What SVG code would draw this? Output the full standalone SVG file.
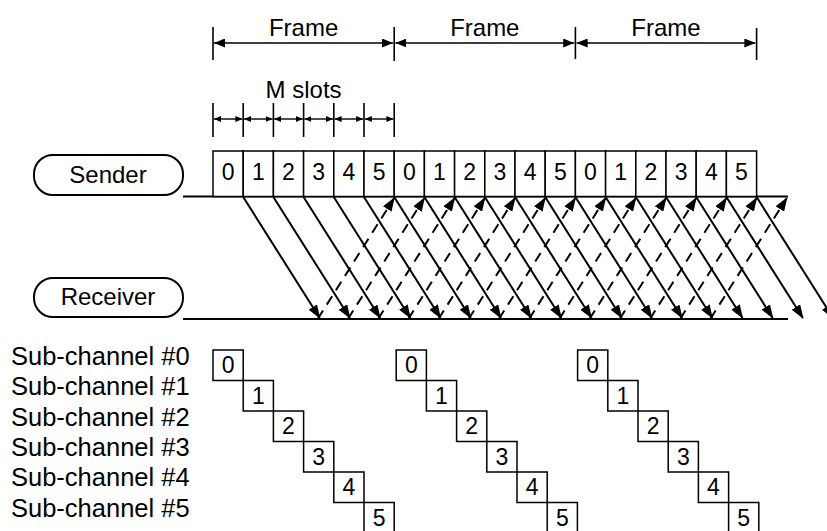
<svg xmlns="http://www.w3.org/2000/svg" width="827" height="531" viewBox="0 0 827 531">
  <defs>
    <style>
      text { font-family: "Liberation Sans", Arial, sans-serif; fill: #000; }
      .lbl { font-size: 24px; }
      .sub { font-size: 25.5px; }
      .num { font-size: 23px; text-anchor: middle; }
      .mid { text-anchor: middle; }
      .box { fill: #fff; stroke: #000; stroke-width: 1.5; }
      .pill { fill: #fff; stroke: #000; stroke-width: 2; }
      .base { stroke: #000; stroke-width: 2; fill: none; }
      .tick { stroke: #000; stroke-width: 1.6; }
      .dim { stroke: #000; stroke-width: 1.6; fill: none; marker-start: url(#dimHead); marker-end: url(#dimHead); }
      .sdim { stroke: #000; stroke-width: 1.4; fill: none; marker-start: url(#slotHead); marker-end: url(#slotHead); }
      .data { stroke: #000; stroke-width: 2; fill: none; marker-end: url(#head); }
      .ack { stroke: #000; stroke-width: 2; fill: none; stroke-dasharray: 10 7; marker-end: url(#head); }
    </style>
    <marker id="head" markerUnits="userSpaceOnUse" viewBox="0 0 14 10" markerWidth="14" markerHeight="10" refX="13" refY="5" orient="auto">
      <path d="M0,0 L14,5 L0,10 z" fill="#000"/>
    </marker>
    <marker id="dimHead" markerUnits="userSpaceOnUse" viewBox="0 0 11 9" markerWidth="11" markerHeight="9" refX="11" refY="4.5" orient="auto-start-reverse">
      <path d="M0,0 L11,4.5 L0,9 z" fill="#000"/>
    </marker>
    <marker id="slotHead" markerUnits="userSpaceOnUse" viewBox="0 0 7 6" markerWidth="7" markerHeight="6" refX="7" refY="3" orient="auto-start-reverse">
      <path d="M0,0 L7,3 L0,6 z" fill="#000"/>
    </marker>
  </defs>

  <rect width="827" height="531" fill="#fff"/>

  <!-- frame dimensions -->
  <g id="frames">
    <line class="tick" x1="213" y1="27" x2="213" y2="60"/>
    <line class="tick" x1="394.2" y1="27" x2="394.2" y2="61"/>
    <line class="tick" x1="575.4" y1="27" x2="575.4" y2="59"/>
    <line class="tick" x1="756.6" y1="28" x2="756.6" y2="60"/>
    <line class="dim" x1="214" y1="43" x2="393" y2="43"/>
    <line class="dim" x1="395.4" y1="43" x2="574.2" y2="43"/>
    <line class="dim" x1="576.6" y1="43" x2="755.4" y2="43"/>
    <text class="lbl mid" x="303.6" y="36">Frame</text>
    <text class="lbl mid" x="484.8" y="36">Frame</text>
    <text class="lbl mid" x="666" y="36">Frame</text>
  </g>

  <!-- slot dimensions -->
  <g id="slots">
    <text class="lbl mid" x="303.6" y="98">M slots</text>
    <line class="tick" x1="213" y1="103" x2="213" y2="137"/>
    <line class="tick" x1="243.2" y1="103" x2="243.2" y2="137"/>
    <line class="tick" x1="273.4" y1="103" x2="273.4" y2="137"/>
    <line class="tick" x1="303.6" y1="103" x2="303.6" y2="137"/>
    <line class="tick" x1="333.8" y1="103" x2="333.8" y2="137"/>
    <line class="tick" x1="364" y1="103" x2="364" y2="137"/>
    <line class="tick" x1="394.2" y1="103" x2="394.2" y2="137"/>
    <line class="sdim" x1="214" y1="119" x2="242.4" y2="119"/>
    <line class="sdim" x1="244" y1="119" x2="272.6" y2="119"/>
    <line class="sdim" x1="274.2" y1="119" x2="302.8" y2="119"/>
    <line class="sdim" x1="304.4" y1="119" x2="333" y2="119"/>
    <line class="sdim" x1="334.6" y1="119" x2="363.2" y2="119"/>
    <line class="sdim" x1="364.8" y1="119" x2="393.4" y2="119"/>
  </g>

  <!-- sender -->
  <g id="sender">
    <rect class="pill" x="34" y="155" width="149" height="40" rx="19"/>
    <text class="lbl mid" x="108" y="183">Sender</text>
    <line class="base" x1="183" y1="196.5" x2="788" y2="196.5"/>
    <g>
      <rect class="box" x="213" y="151" width="30.2" height="45.5"/>
      <rect class="box" x="243.2" y="151" width="30.2" height="45.5"/>
      <rect class="box" x="273.4" y="151" width="30.2" height="45.5"/>
      <rect class="box" x="303.6" y="151" width="30.2" height="45.5"/>
      <rect class="box" x="333.8" y="151" width="30.2" height="45.5"/>
      <rect class="box" x="364" y="151" width="30.2" height="45.5"/>
      <rect class="box" x="394.2" y="151" width="30.2" height="45.5"/>
      <rect class="box" x="424.4" y="151" width="30.2" height="45.5"/>
      <rect class="box" x="454.6" y="151" width="30.2" height="45.5"/>
      <rect class="box" x="484.8" y="151" width="30.2" height="45.5"/>
      <rect class="box" x="515" y="151" width="30.2" height="45.5"/>
      <rect class="box" x="545.2" y="151" width="30.2" height="45.5"/>
      <rect class="box" x="575.4" y="151" width="30.2" height="45.5"/>
      <rect class="box" x="605.6" y="151" width="30.2" height="45.5"/>
      <rect class="box" x="635.8" y="151" width="30.2" height="45.5"/>
      <rect class="box" x="666" y="151" width="30.2" height="45.5"/>
      <rect class="box" x="696.2" y="151" width="30.2" height="45.5"/>
      <rect class="box" x="726.4" y="151" width="30.2" height="45.5"/>
    </g>
    <g>
      <text class="num" x="228.1" y="180">0</text>
      <text class="num" x="258.3" y="180">1</text>
      <text class="num" x="288.5" y="180">2</text>
      <text class="num" x="318.7" y="180">3</text>
      <text class="num" x="348.9" y="180">4</text>
      <text class="num" x="379.1" y="180">5</text>
      <text class="num" x="409.3" y="180">0</text>
      <text class="num" x="439.5" y="180">1</text>
      <text class="num" x="469.7" y="180">2</text>
      <text class="num" x="499.9" y="180">3</text>
      <text class="num" x="530.1" y="180">4</text>
      <text class="num" x="560.3" y="180">5</text>
      <text class="num" x="590.5" y="180">0</text>
      <text class="num" x="620.7" y="180">1</text>
      <text class="num" x="650.9" y="180">2</text>
      <text class="num" x="681.1" y="180">3</text>
      <text class="num" x="711.3" y="180">4</text>
      <text class="num" x="741.5" y="180">5</text>
    </g>
  </g>

  <!-- receiver -->
  <g id="receiver">
    <rect class="pill" x="34" y="278" width="149" height="39" rx="19"/>
    <text class="lbl mid" x="108" y="305">Receiver</text>
    <line class="base" x1="183" y1="319" x2="788" y2="319"/>
  </g>

  <!-- transmissions (solid) and returns (dashed) -->
  <g id="connectors">
    <line class="data" x1="243.2" y1="197" x2="319.7" y2="318"/>
    <line class="data" x1="273.4" y1="197" x2="349.9" y2="318"/>
    <line class="data" x1="303.6" y1="197" x2="380.1" y2="318"/>
    <line class="data" x1="333.8" y1="197" x2="410.3" y2="318"/>
    <line class="data" x1="364" y1="197" x2="440.5" y2="318"/>
    <line class="data" x1="394.2" y1="197" x2="470.7" y2="318"/>
    <line class="data" x1="424.4" y1="197" x2="500.9" y2="318"/>
    <line class="data" x1="454.6" y1="197" x2="531.1" y2="318"/>
    <line class="data" x1="484.8" y1="197" x2="561.3" y2="318"/>
    <line class="data" x1="515" y1="197" x2="591.5" y2="318"/>
    <line class="data" x1="545.2" y1="197" x2="621.7" y2="318"/>
    <line class="data" x1="575.4" y1="197" x2="651.9" y2="318"/>
    <line class="data" x1="605.6" y1="197" x2="682.1" y2="318"/>
    <line class="data" x1="635.8" y1="197" x2="712.3" y2="318"/>
    <line class="data" x1="666" y1="197" x2="742.5" y2="318"/>
    <line class="data" x1="696.2" y1="197" x2="772.7" y2="318"/>
    <line class="data" x1="726.4" y1="197" x2="802.9" y2="318"/>
    <line class="data" x1="756.6" y1="197" x2="833.1" y2="318"/>

    <line class="ack" x1="317.7" y1="319" x2="394.2" y2="198"/>
    <line class="ack" x1="347.9" y1="319" x2="424.4" y2="198"/>
    <line class="ack" x1="378.1" y1="319" x2="454.6" y2="198"/>
    <line class="ack" x1="408.3" y1="319" x2="484.8" y2="198"/>
    <line class="ack" x1="438.5" y1="319" x2="515" y2="198"/>
    <line class="ack" x1="468.7" y1="319" x2="545.2" y2="198"/>
    <line class="ack" x1="498.9" y1="319" x2="575.4" y2="198"/>
    <line class="ack" x1="529.1" y1="319" x2="605.6" y2="198"/>
    <line class="ack" x1="559.3" y1="319" x2="635.8" y2="198"/>
    <line class="ack" x1="589.5" y1="319" x2="666" y2="198"/>
    <line class="ack" x1="619.7" y1="319" x2="696.2" y2="198"/>
    <line class="ack" x1="649.9" y1="319" x2="726.4" y2="198"/>
    <line class="ack" x1="680.1" y1="319" x2="756.6" y2="198"/>
    <line class="ack" x1="710.3" y1="319" x2="786.8" y2="198"/>
  </g>

  <!-- sub-channel labels -->
  <g id="subchannel-labels">
    <text class="sub" x="11" y="365">Sub-channel #0</text>
    <text class="sub" x="11" y="395.3">Sub-channel #1</text>
    <text class="sub" x="11" y="425.6">Sub-channel #2</text>
    <text class="sub" x="11" y="455.9">Sub-channel #3</text>
    <text class="sub" x="11" y="486.2">Sub-channel #4</text>
    <text class="sub" x="11" y="516.5">Sub-channel #5</text>
  </g>

  <!-- sub-channel slot staircases, one per frame -->
  <g id="subchannel-frame-1">
    <rect class="box" x="213" y="350" width="30.2" height="30.5"/>
    <rect class="box" x="243.2" y="380.5" width="30.2" height="30.5"/>
    <rect class="box" x="273.4" y="411" width="30.2" height="30.5"/>
    <rect class="box" x="303.6" y="441.5" width="30.2" height="30.5"/>
    <rect class="box" x="333.8" y="472" width="30.2" height="30.5"/>
    <rect class="box" x="364" y="502.5" width="30.2" height="31"/>
    <text class="num" x="228.1" y="373">0</text>
    <text class="num" x="258.3" y="403.5">1</text>
    <text class="num" x="288.5" y="434">2</text>
    <text class="num" x="318.7" y="464.5">3</text>
    <text class="num" x="348.9" y="495">4</text>
    <text class="num" x="379.1" y="525.5">5</text>
  </g>
  <g id="subchannel-frame-2">
    <rect class="box" x="396.2" y="350" width="30.2" height="30.5"/>
    <rect class="box" x="426.4" y="380.5" width="30.2" height="30.5"/>
    <rect class="box" x="456.6" y="411" width="30.2" height="30.5"/>
    <rect class="box" x="486.8" y="441.5" width="30.2" height="30.5"/>
    <rect class="box" x="517" y="472" width="30.2" height="30.5"/>
    <rect class="box" x="547.2" y="502.5" width="30.2" height="31"/>
    <text class="num" x="411.3" y="373">0</text>
    <text class="num" x="441.5" y="403.5">1</text>
    <text class="num" x="471.7" y="434">2</text>
    <text class="num" x="501.9" y="464.5">3</text>
    <text class="num" x="532.1" y="495">4</text>
    <text class="num" x="562.3" y="525.5">5</text>
  </g>
  <g id="subchannel-frame-3">
    <rect class="box" x="577.6" y="350" width="30.2" height="30.5"/>
    <rect class="box" x="607.8" y="380.5" width="30.2" height="30.5"/>
    <rect class="box" x="638" y="411" width="30.2" height="30.5"/>
    <rect class="box" x="668.2" y="441.5" width="30.2" height="30.5"/>
    <rect class="box" x="698.4" y="472" width="30.2" height="30.5"/>
    <rect class="box" x="728.6" y="502.5" width="30.2" height="31"/>
    <text class="num" x="592.7" y="373">0</text>
    <text class="num" x="622.9" y="403.5">1</text>
    <text class="num" x="653.1" y="434">2</text>
    <text class="num" x="683.3" y="464.5">3</text>
    <text class="num" x="713.5" y="495">4</text>
    <text class="num" x="743.7" y="525.5">5</text>
  </g>
</svg>
